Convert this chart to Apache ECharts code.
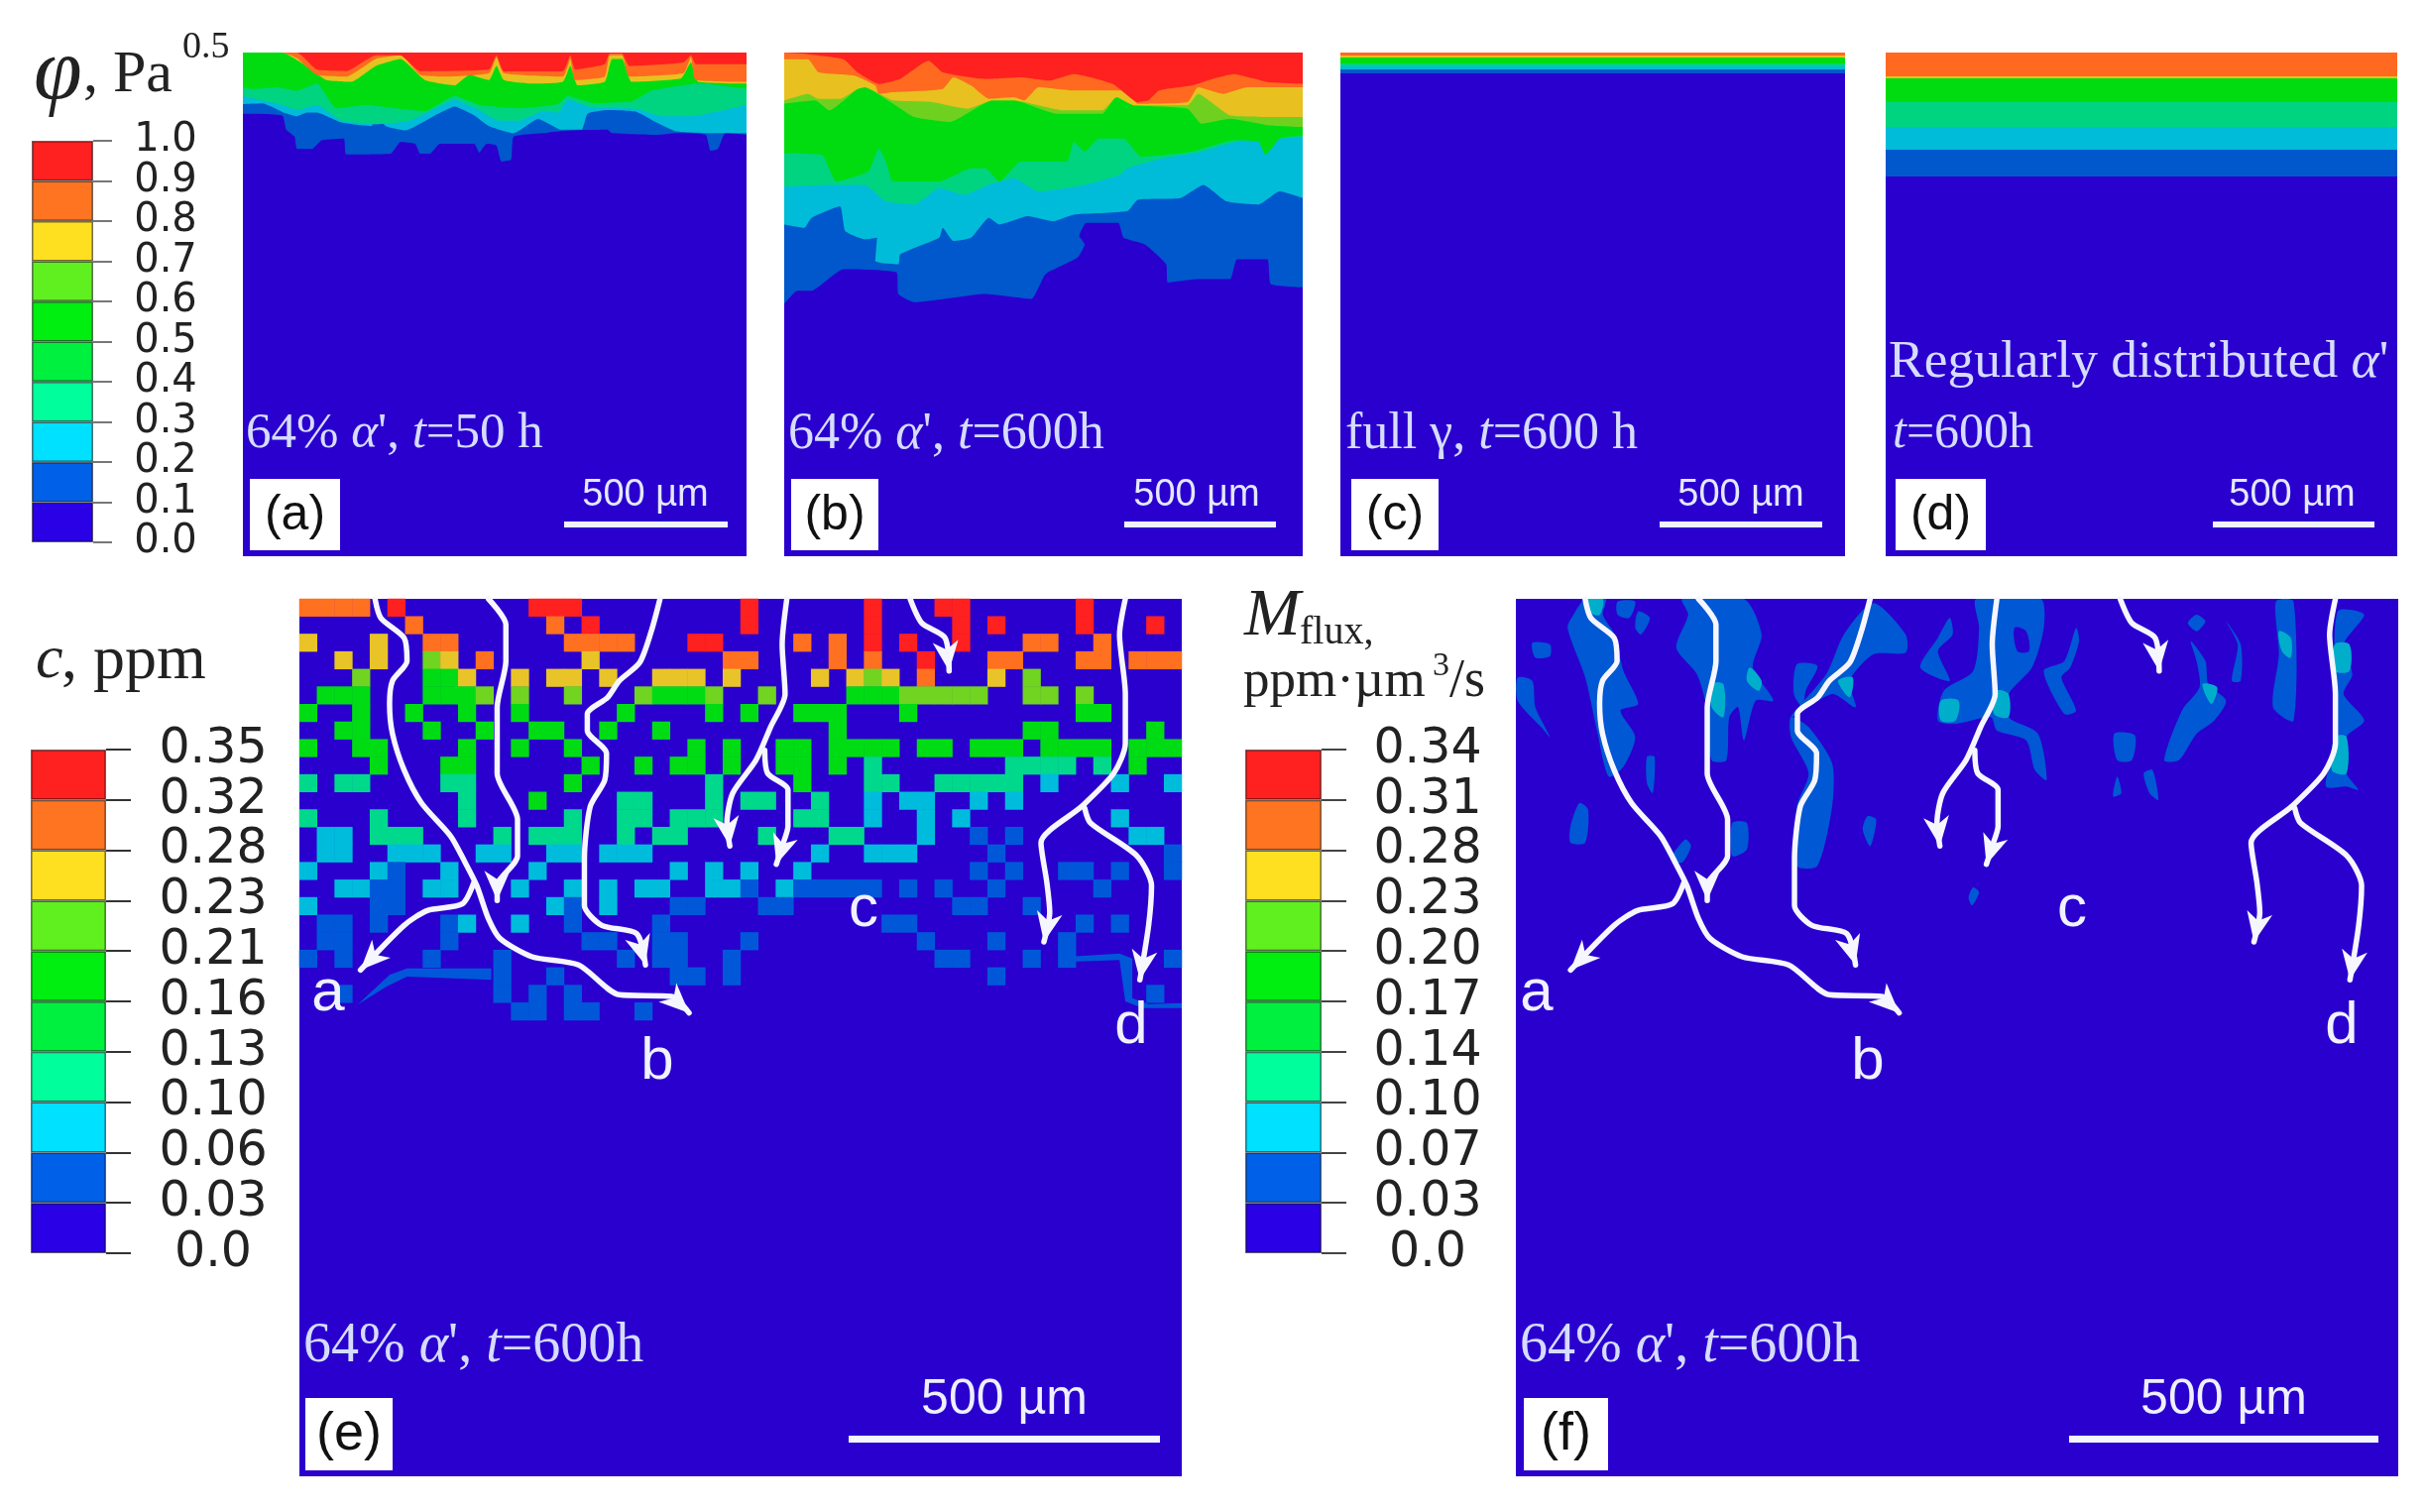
<!DOCTYPE html>
<html><head><meta charset="utf-8">
<style>html,body{margin:0;padding:0;background:#fff}#c{width:2446px;height:1525px;filter:blur(0.7px)}</style>
<script src="https://cdn.jsdelivr.net/npm/echarts@6/dist/echarts.min.js"></script>
</head><body><div id="c"></div>
<script>
// ---------- colour-bar tick labels ----------
const phiTicks = ['0.0','0.1','0.2','0.3','0.4','0.5','0.6','0.7','0.8','0.9','1.0'];
const concTicks = ['0.0','0.03','0.06','0.10','0.13','0.16','0.21','0.23','0.28','0.32','0.35'];
const fluxTicks = ['0.0','0.03','0.07','0.10','0.14','0.17','0.20','0.23','0.28','0.31','0.34'];
const barColors = ['#2a00e6','#0060e8','#00e0ff','#00ff9c','#00f040','#00ee10','#60f020','#ffe020','#ff7420','#ff2020'];
// ---------- panel (a): lower edge of each contour band, [x, depth] ----------
const aBlue = [[490,265],[570,270],[578,310],[595,330],[600,365],[630,365],[650,340],[695,335],[700,380],[790,378],[810,345],[840,350],[850,378],[870,378],[890,350],[960,350],[970,375],[985,350],[1005,355],[1015,400],[1035,395],[1040,330],[1100,320],[1130,315],[1160,312],[1230,310],[1240,320],[1330,325],[1370,320],[1430,325],[1440,370],[1455,365],[1470,320],[1513,325]];
const aCyan = [[490,238],[530,236],[570,260],[600,272],[620,262],[640,262],[690,290],[750,300],[765,275],[780,300],[820,312],[880,270],[920,245],[960,270],[990,300],[1040,320],[1090,280],[1120,300],[1135,310],[1178,310],[1190,265],[1230,255],[1290,260],[1330,290],[1370,315],[1440,320],[1513,320]];
const aTeal = [[490,215],[570,240],[600,255],[640,240],[690,285],[760,295],[830,285],[880,250],[920,225],[970,255],[1010,285],[1050,285],[1100,258],[1130,262],[1150,225],[1200,248],[1290,252],[1340,272],[1400,272],[1513,240]];
const aGreen = [[490,190],[510,195],[560,190],[600,200],[640,180],[680,250],[740,240],[800,250],[860,258],[920,215],[970,240],[1050,250],[1130,238],[1150,215],[1200,235],[1280,230],[1320,200],[1420,180],[1513,195]];
const aYellow = [[490,92],[570,92],[610,122],[660,170],[710,175],[760,130],[810,110],[860,170],[920,185],[950,155],[990,170],[1005,130],[1020,170],[1080,180],[1140,175],[1155,130],[1170,185],[1225,175],[1240,110],[1260,110],[1280,175],[1380,165],[1400,120],[1415,175],[1513,180]];
const aOrange = [[490,92],[570,92],[600,108],[640,155],[700,160],[760,110],[810,100],[850,155],[900,160],[990,150],[1005,105],[1020,150],[1140,160],[1155,110],[1165,170],[1225,160],[1235,100],[1260,100],[1275,160],[1385,150],[1400,105],[1410,170],[1513,175]];
const aRed = [[490,92],[570,92],[600,92],[640,140],[700,145],[760,100],[810,100],[850,145],[990,140],[1005,100],[1020,145],[1140,145],[1155,100],[1165,140],[1225,125],[1235,95],[1260,95],[1275,130],[1385,120],[1400,100],[1410,125],[1513,125]];
const aHoles = [[[640,175],[660,165],[680,235],[692,262],[640,264],[622,258]],[[900,245],[930,215],[972,250],[950,268],[905,262]],[[1135,255],[1150,215],[1182,240],[1182,258]]];
// ---------- panel (b) ----------
const bBlue = [[33,830],[70,790],[110,790],[200,725],[350,735],[355,800],[400,825],[600,800],[730,815],[770,740],[860,690],[880,650],[865,625],[885,585],[975,585],[990,630],[1050,650],[1110,710],[1115,765],[1200,755],[1290,755],[1310,695],[1395,695],[1405,770],[1495,780]];
const bCyan = [[33,590],[90,600],[110,570],[190,535],[205,610],[260,635],[295,630],[290,700],[355,710],[360,680],[470,630],[480,600],[510,640],[560,630],[610,570],[640,590],[720,565],[790,580],[850,560],[1000,550],[1030,515],[1150,510],[1215,470],[1280,520],[1370,530],[1430,490],[1495,510]];
const bTeal = [[33,475],[160,470],[260,470],[320,520],[400,530],[470,480],[540,500],[610,470],[680,450],[750,490],[880,470],[980,440],[1000,420],[1100,390],[1200,372],[1320,336],[1430,330],[1495,325]];
const bGreen = [[33,375],[140,380],[180,460],[270,430],[300,360],[320,400],[340,460],[470,460],[560,420],[600,420],[640,460],[700,400],[830,400],[850,340],[880,370],[920,330],[990,330],[1040,385],[1180,370],[1300,335],[1370,340],[1390,380],[1430,330],[1495,320]];
const bLime = [[33,225],[120,215],[160,245],[240,180],[260,175],[340,225],[400,265],[500,280],[620,215],[680,215],[800,255],[930,255],[970,205],[1020,230],[1170,240],[1210,285],[1290,270],[1400,290],[1495,295]];
const bYellow = [[33,215],[100,195],[130,210],[190,210],[240,180],[260,175],[340,215],[450,220],[550,240],[620,215],[680,215],[820,245],[930,245],[970,205],[1020,230],[1170,230],[1200,195],[1290,260],[1400,265],[1495,265]];
const bOrange = [[33,90],[100,90],[130,130],[230,140],[290,170],[300,195],[340,190],[480,180],[510,145],[560,170],[610,210],[680,205],[710,215],[750,175],[850,185],[990,185],[1030,225],[1170,220],[1200,175],[1270,195],[1340,175],[1495,175]];
const bRed = [[33,70],[100,75],[200,90],[240,130],[300,165],[360,150],[440,95],[480,130],[600,150],[700,145],[780,155],[850,135],[960,165],[1030,220],[1060,215],[1090,185],[1180,170],[1240,150],[1300,135],[1400,160],[1495,165]];
// ---------- panels (c), (d): flat layer depths ----------
const cDepths = [21,17,14,11,5,3];
const dDepths = [125,98,75,50,26,24];
// ---------- panel (e): contour level of each cell, row by row ----------
const concLeft = [
'7777 0 8 0000000 888 000000000','000000 7 0000000 7 0 8 00000000','6 000 6 00 77 000000 7777 000 88 0','00 6 0 6 00 5 6 0 7 00000 6 0000000 7',
'000 5 000 44 6 00 6 0 66 0 6 00 666 0 6','0 444 000 444 5 0 5 00 5 000 5 444 5 0','4 00 4 00 4 00 4 00 4 00000 4 0000 4 0','00 44 000 4 00 4 00 44 00 4 00 4 0000',
'4 00 44 0000 4 00 4 00 4 000000 4 0 4','0000 4 000 44 000000 4 00 4 0 44 0 4','3 0 33 0000 33 00000 4 0000000 3 0','000000000 3 000 4 0000 33 000 3 0',
'3 000 3 0000 3 00000 3 00 33 0 333 0','0 22 0 333 0000 3 0 333 00 3 0 33 000','0 22 00 222 00 22 00 22 0 222 00000','2 000 21 00 2 0000 2 0000000 2 0 2 0',
'00 22 11 0 22 000 2 00 2 0 2 0 22 00 22','2 000 11 00000000 2 1 0 2 000 11 00','0 11 0 1 000 1 2 00 2 00 1 0000 1 0000','0 11 00000 1 0000000 11 00 11 000',
'1 0 1 0000 1 000 1 000000 1 0 11 00 1','00000000000 1 00 1 000000 11 0 1','00 1 00000000 1 0 1 0 1 000000000','000000000000 11 0 11 00 1 00000'];
const concRight = [
'8 000000 8 000 88 000000 8 00000','8 000000 8 0000 8 0 8 0000 8 000 8 0','000 7 0 7 0 8 0 8 00 8 000 77 00 7 0000','7 0000 7 0 7 00 8 000 77 000 77 0 777',
'0000 6 0 656 0 7 000 6 0 5 00000000','0 5 0000 444 55555 00 55 0 5 00000','4 00 444 000 4 000000000 44 0000','00000 4 0000000000 44 00000 4 0',
'00 44 0 4444 0 44 0 444 0 4444 0 444','00 44 0 4 0 3 0000000 3333 0 3 0 4 00','000 4 000 33 00 33333 0 2 000 2 00 2','33 00 3 00 2 0 22 00 2 0 2 000000000',
'000 33 00 2 00 2 0 2 00000000 2 000','0 3 000 33 000 2 00 1 0 1 000000 22 0','0000 2 00 222 0000 1 000000000 1','2 00 2 000000000 1 0 1 00 11 0 1 00 1',
'1 0 2 11111 0 1 0 1 00 1 00000 1 0000','0 11 000000000 11 00 1 00000000','00000000 11 000000000 1 0 1 000','1 000000000 1 000 1 000 1 000000',
'00000000000 11 000 1 0 1 00000 1','00000000000000 1 0000000000','00000000000000000000000 1 0','0000000000000000000000000'];
const levelColors = ['#2a00cf','#0058d8','#00bcdc','#00d88c','#00dc14','#70d420','#e8c428','#ff7020','#ff2020'];
const eThin = [[[120,1240],[175,1150],[205,1130],[350,1130],[350,1165],[205,1155],[170,1185]],[[1340,1095],[1430,1085],[1452,1100],[1452,1220],[1480,1238],[1537,1235],[1537,1250],[1470,1250],[1440,1230],[1430,1105],[1345,1110]]];
// ---------- panel (f): flux patches, [x, depth] outlines ----------
const fBlue = [
[[150,12],[185,12],[180,60],[200,120],[215,230],[240,330],[210,350],[235,430],[215,520],[190,550],[170,410],[150,250],[120,100],[130,60]],
[[205,20],[235,20],[225,70],[205,60]],[[240,50],[260,70],[245,120],[235,100]],[[60,145],[90,150],[90,185],[65,190]],
[[35,250],[60,260],[65,340],[90,430],[75,400],[35,320]],
[[315,12],[420,12],[450,120],[435,220],[470,320],[440,320],[420,440],[410,340],[395,370],[390,500],[365,500],[355,330],[340,240],[305,160],[325,60]],
[[510,210],[545,215],[525,290],[520,340],[505,300]],
[[640,25],[695,120],[695,175],[640,180],[600,260],[610,340],[570,300],[500,370],[560,240],[590,120]],
[[500,370],[530,400],[570,510],[570,640],[545,820],[510,820],[510,640],[530,540],[500,430]],
[[770,70],[775,120],[750,170],[770,260],[720,220],[750,130]],
[[815,12],[925,12],[930,100],[910,220],[870,300],[870,370],[920,420],[935,560],[915,530],[900,440],[850,410],[840,370],[780,390],[750,380],[760,290],[810,230],[820,100]],
[[985,100],[990,140],[975,220],[960,250],[985,350],[965,360],[930,230],[965,200]],
[[1190,60],[1205,80],[1190,110],[1175,85]],[[1240,80],[1265,150],[1265,260],[1250,260],[1260,150]],
[[1180,140],[1205,200],[1210,270],[1240,320],[1220,380],[1190,420],[1160,500],[1135,500],[1165,350],[1195,280],[1190,200]],
[[1325,20],[1355,20],[1355,380],[1320,340],[1330,180]],
[[1430,50],[1475,60],[1440,150],[1455,240],[1440,300],[1475,380],[1445,430],[1445,540],[1465,590],[1445,580],[1410,580],[1425,450],[1425,300]],
[[1050,420],[1085,425],[1080,500],[1055,500]],[[1100,540],[1115,530],[1125,620],[1110,600]],
[[140,630],[155,650],[150,750],[125,750],[125,700]],[[320,740],[330,760],[315,810],[295,800]],[[400,690],[425,690],[425,770],[400,790]],
[[255,490],[268,490],[265,600],[255,570]],[[630,670],[645,680],[635,760],[622,710]],[[1055,550],[1062,600],[1048,610]],[[810,885],[820,900],[808,940],[802,915]]];
const fHoles = [[[880,100],[900,110],[905,170],[885,170]]];
const fTeal = [[[430,220],[450,260],[445,290],[425,260]],[[365,270],[385,270],[385,370],[365,340]],[[580,260],[605,250],[600,310]],[[755,320],[785,320],[780,380],[755,380]],[[850,290],[870,300],[870,370],[845,360]],[[1330,110],[1350,130],[1350,190],[1335,170]],[[1425,150],[1450,150],[1450,230],[1425,230]],[[1425,430],[1445,430],[1445,540],[1420,530]],[[1200,270],[1225,280],[1215,330]],[[155,12],[180,12],[175,60],[160,55]]];
// ---------- diffusion paths drawn in (e) and (f) ----------
const pathAB = [[150,12],[160,70],[200,130],[205,200],[180,260],[175,330],[180,420],[200,530],[230,630],[280,730],[305,810],[325,880],[345,980],[365,1040],[420,1095],[500,1120],[570,1210],[660,1215],[690,1265]];
const pathA = [[320,870],[300,935],[240,955],[200,1000],[125,1135]];
const path2 = [[345,12],[375,90],[375,200],[360,340],[360,540],[395,680],[395,790],[360,880],[360,925]];
const path3 = [[640,12],[625,110],[605,205],[570,260],[550,310],[515,360],[515,410],[548,480],[545,560],[520,640],[510,800],[510,940],[540,1000],[600,1025],[615,1120]];
const path4 = [[858,12],[850,150],[855,300],[830,400],[805,500],[765,600],[755,690],[760,760]];
const path4b = [[820,470],[825,540],[860,590],[860,700],[850,760],[840,815]];
const path5 = [[1070,12],[1090,85],[1130,130],[1137,230]];
const path6 = [[1440,12],[1430,120],[1440,300],[1440,450],[1420,540],[1365,640],[1295,750],[1305,870],[1310,960],[1300,1050]];
const path6b = [[1370,645],[1380,690],[1460,790],[1485,880],[1480,1000],[1465,1165]];
const allPaths = [pathAB,pathA,path2,path3,path4,path4b,path5,path6,path6b];

// ---------- build ----------
const C = {red:'#ff2020',orange:'#ff6a20',yellow:'#e8c020',lime:'#70d020',green:'#00dc10',teal:'#00d480',cyan:'#00bcd8',blue:'#0058cc',dark:'#2a00cf'};
const grids=[],xAxes=[],yAxes=[],series=[];
function addGrid(l,t,w,h,xr,yr,bg){
  const i=grids.length;
  grids.push({left:l,top:t,width:w,height:h,show:!!bg,backgroundColor:bg||'transparent',borderWidth:0});
  xAxes.push({type:'value',gridIndex:i,min:xr[0],max:xr[1],show:false});
  yAxes.push({type:'value',gridIndex:i,min:yr[0],max:yr[1],inverse:true,show:false});
  return i;
}
function band(i,pts,color){series.push({type:'line',xAxisIndex:i,yAxisIndex:i,data:pts,showSymbol:false,smooth:0.15,silent:true,lineStyle:{width:0},areaStyle:{color,opacity:1,origin:'start'}});}
function patches(i,list,color,smooth){
  series.push({type:'custom',xAxisIndex:i,yAxisIndex:i,silent:true,data:list.map(p=>p[0]),clip:true,
    renderItem:(params,api)=>({type:'polygon',shape:{points:list[params.dataIndex].map(q=>api.coord(q)),smooth:smooth},style:{fill:color}})});
}
function arrows(i){
  allPaths.forEach(p=>series.push({type:'line',xAxisIndex:i,yAxisIndex:i,data:p,showSymbol:false,smooth:0.25,silent:true,z:5,lineStyle:{color:'#f6f6ff',width:5.5,cap:'round',join:'round'}}));
  series.push({type:'custom',xAxisIndex:i,yAxisIndex:i,silent:true,z:6,data:allPaths.map(p=>p[p.length-1]),
    renderItem:(params,api)=>{
      const p=allPaths[params.dataIndex],a=api.coord(p[p.length-2]),b=api.coord(p[p.length-1]);
      let dx=b[0]-a[0],dy=b[1]-a[1];const n=Math.hypot(dx,dy);dx/=n;dy/=n;
      const L=30,W=13;
      return {type:'polygon',shape:{points:[b,[b[0]-dx*L-dy*W,b[1]-dy*L+dx*W],[b[0]-dx*L*0.72,b[1]-dy*L*0.72],[b[0]-dx*L+dy*W,b[1]-dy*L-dx*W]]},style:{fill:'#f6f6ff'}};
    }});
}
// top row
const ga=addGrid(245,53,508,508,[490,1513],[92,1517],C.dark);
[[aBlue,C.blue],[aCyan,C.cyan],[aTeal,C.teal],[aGreen,C.green],[aYellow,C.yellow],[aOrange,C.orange],[aRed,C.red]].forEach(b=>band(ga,b[0],b[1]));
patches(ga,aHoles,C.dark,0.2);
const gb=addGrid(791,53,523,508,[33,1495],[70,1593],C.dark);
[[bBlue,C.blue],[bCyan,C.cyan],[bTeal,C.teal],[bGreen,C.green],[bLime,C.lime],[bYellow,C.yellow],[bOrange,C.orange],[bRed,C.red]].forEach(b=>band(gb,b[0],b[1]));
const layerColors=[C.blue,C.cyan,C.teal,C.green,C.yellow,C.orange];
const gc=addGrid(1352,53,509,508,[0,100],[0,508],C.dark);
cDepths.forEach((d,k)=>band(gc,[[0,d],[100,d]],layerColors[k]));
const gd=addGrid(1902,53,516,508,[0,100],[0,508],C.dark);
dDepths.forEach((d,k)=>band(gd,[[0,d],[100,d]],layerColors[k]));
// (e) heat map of cells
const he=grids.length;
grids.push({left:302,top:604,width:890,height:885,show:true,backgroundColor:C.dark,borderWidth:0});
grids.push({left:302,top:604,width:890,height:425,show:false});
const colNames=Array.from({length:50},(_,i)=>String(i));
const rowNames=Array.from({length:24},(_,i)=>String(i));
xAxes.push({type:'category',gridIndex:he,data:colNames,show:false},{type:'category',gridIndex:he+1,data:colNames,show:false});
yAxes.push({type:'category',gridIndex:he,data:rowNames,show:false,inverse:true},{type:'category',gridIndex:he+1,data:rowNames,show:false,inverse:true});
const cells=[];
rowNames.forEach((_,r)=>{
  const s=(concLeft[r]+concRight[r]).replace(/ /g,'');
  for(let c=0;c<50;c++){const v=+(s[c]||0);if(v>0)cells.push({value:[c,r,v],itemStyle:{color:levelColors[v]}});}
});
series.push({type:'heatmap',xAxisIndex:he+1,yAxisIndex:he+1,data:cells,silent:true,itemStyle:{borderWidth:0}});
const ge=addGrid(302,604,890,885,[20,1537],[12,2667]);
patches(ge,eThin,levelColors[1],0);
arrows(ge);
// (f)
const gf0=addGrid(1529,604,890,885,[32,1533],[12,2667],C.dark);
patches(gf0,fBlue,'#0058d4',0.25);
patches(gf0,fHoles,C.dark,0.3);
patches(gf0,fTeal,'#00aecb',0.3);
const gf=addGrid(1529,604,890,885,[31,1548],[12,2667]);
arrows(gf);
// colour bars
function colourBar(l,t,w,h,ticks,tickLen,margin,fs,tickColor){
  const i=grids.length;
  grids.push({left:l,top:t,width:w,height:h,show:false});
  xAxes.push({type:'category',gridIndex:i,data:[''],show:false});
  yAxes.push({type:'value',gridIndex:i,min:0,max:10,interval:1,position:'right',splitLine:{show:false},axisLine:{show:false},
    axisTick:{show:true,length:tickLen,lineStyle:{color:tickColor,width:2}},
    axisLabel:{show:true,margin:margin,align:'center',color:'#222',fontFamily:'DejaVu Sans',fontSize:fs,formatter:v=>ticks[v]}});
  barColors.forEach(col=>series.push({type:'bar',xAxisIndex:i,yAxisIndex:i,stack:'s'+i,data:[1],barWidth:'100%',silent:true,itemStyle:{color:col,borderColor:'rgba(0,0,0,0.55)',borderWidth:1.5}}));
}
colourBar(32,142,62,405,phiTicks,19,73,40,'#777');
colourBar(31,756,76,508,concTicks,25,108,49,'#333');
colourBar(1256,756,77,508,fluxTicks,25,107,49,'#444');

// ---------- texts ----------
const serif='"Liberation Serif"',sans='"Liberation Sans"';
const g=[];
function txt(x,y,text,family,size,fill,align,italic){g.push({type:'text',x,y,z:100,silent:true,style:{text,fontFamily:family,fontSize:size,fontStyle:italic?'italic':'normal',fill,textAlign:align||'left',textVerticalAlign:'middle'}});}
function rich(x,y,text,size,fill){g.push({type:'text',x,y,z:100,silent:true,style:{text,textAlign:'left',textVerticalAlign:'middle',fontFamily:serif,fontSize:size,fill,rich:{n:{fontFamily:serif,fontSize:size,fill},i:{fontFamily:serif,fontSize:size,fontStyle:'italic',fill}}}});}
function rect(x,y,w,h,fill){g.push({type:'rect',z:99,silent:true,shape:{x,y,width:w,height:h},style:{fill}});}
const cap='#d6dcff';
rich(248,438,"{n|64% }{i|α}{n|', }{i|t}{n|=50 h}",51,cap);
rich(795,438,"{n|64% }{i|α}{n|', }{i|t}{n|=600h}",52,cap);
rich(1357,438,"{n|full γ, }{i|t}{n|=600 h}",52,cap);
rich(1905,366,"{n|Regularly distributed }{i|α}{n|'}",53.5,cap);
rich(1909,438,"{i|t}{n|=600h}",50,cap);
rich(306,1358,"{n|64% }{i|α}{n|', }{i|t}{n|=600h}",56,cap);
rich(1533,1358,"{n|64% }{i|α}{n|', }{i|t}{n|=600h}",56,cap);
[[252,483,91,72,'(a)'],[798,483,88,72,'(b)'],[1363,483,88,72,'(c)'],[1912,483,91,72,'(d)'],[308,1410,88,73,'(e)'],[1537,1410,85,73,'(f)']].forEach(b=>{
  rect(b[0],b[1],b[2],b[3],'#ffffff');txt(b[0]+b[2]/2,b[1]+b[3]/2+1,b[4],sans,b[1]>1000?54:50,'#111','center');
});
[[569,165,651],[1134,153,1207],[1674,164,1756],[2232,163,2312]].forEach(s=>{rect(s[0],526,s[1],6,'#f0f2ff');txt(s[2],500,'500 µm',sans,38,'#e4e8ff','center');});
[[856,314,1013],[2087,312,2243]].forEach(s=>{rect(s[0],1448,s[1],7,'#f4f6ff');txt(s[2],1412,'500 µm',sans,50,'#eef0ff','center');});
[[331,1002,'a'],[663,1071,'b'],[871,917,'c'],[1141,1035,'d'],[1550,1002,'a'],[1884,1071,'b'],[2090,917,'c'],[2362,1035,'d']].forEach(s=>txt(s[0],s[1],s[2],sans,60,'#f0f2ff','center'));
// axis titles
txt(34,76,'φ',serif,88,'#222','left',true);
txt(84,76,', Pa',serif,60,'#222');
txt(184,48,'0.5',serif,38,'#222');
txt(36,667,'c',serif,62,'#222','left',true);
txt(62,667,', ppm',serif,64,'#222');
txt(1255,622,'M',serif,68,'#222','left',true);
txt(1311,638,'flux,',serif,40,'#222');
txt(1254,688,'ppm·µm',serif,53,'#222');
txt(1445,672,'3',serif,34,'#222');
txt(1462,688,'/s',serif,54,'#222');

const chart=echarts.init(document.getElementById('c'),null,{renderer:'canvas',width:2446,height:1525});
chart.setOption({animation:false,backgroundColor:'#ffffff',tooltip:{show:false},grid:grids,xAxis:xAxes,yAxis:yAxes,series:series,graphic:{elements:g}});
</script></body></html>
